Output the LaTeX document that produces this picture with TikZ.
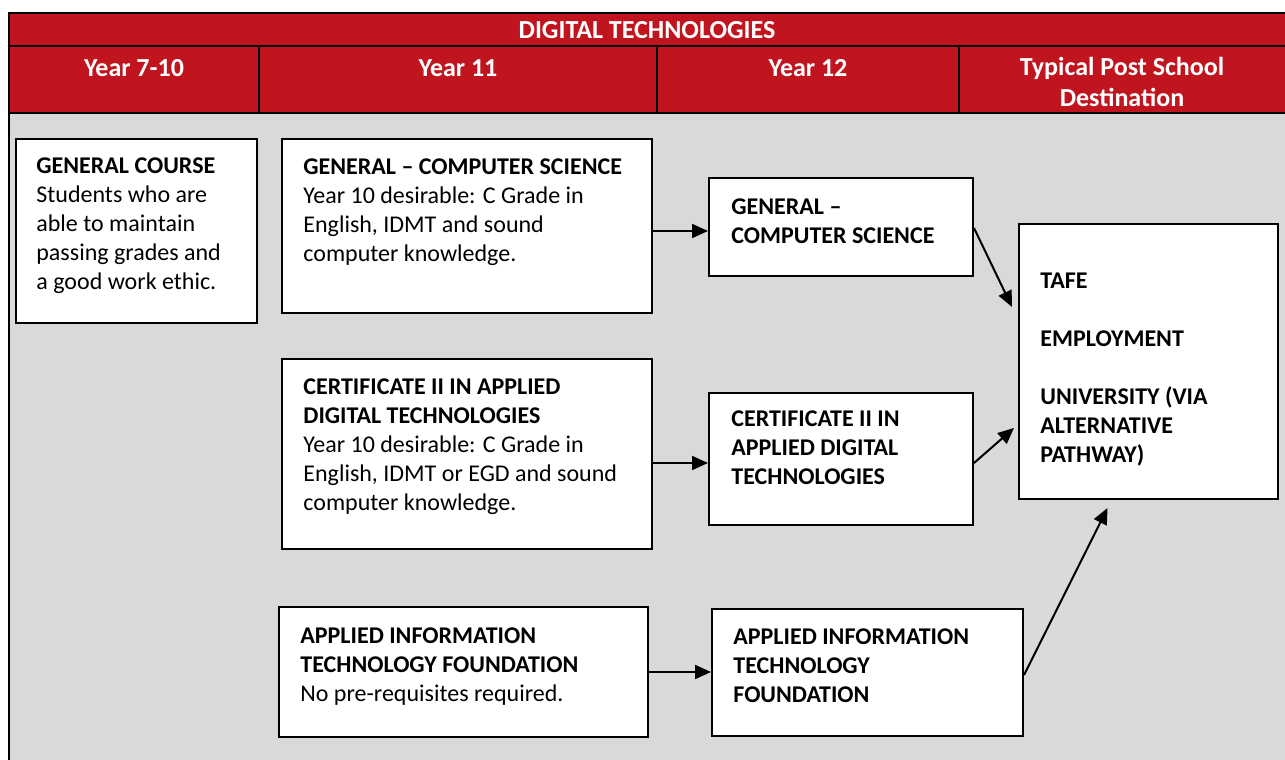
\documentclass[tikz,border=0pt]{standalone}
\usepackage{fontspec}
\setmainfont{Carlito}
\usetikzlibrary{arrows.meta,fit,calc}
\definecolor{hdrred}{RGB}{192,20,30}
\definecolor{bggray}{RGB}{217,217,217}
\begin{document}
\begin{tikzpicture}[x=0.5pt,y=-0.5pt,
  frame/.style={line width=1pt},
  box/.style={draw=black, fill=white, line width=1pt, inner sep=0pt},
  txt/.style={anchor=north west, inner sep=0pt, align=left, font=\fontsize{12pt}{14.5pt}\selectfont},
  btxt/.style={txt, font=\fontsize{12pt}{14.5pt}\selectfont\bfseries},
  hdr/.style={text=white, inner sep=0pt, align=center, font=\fontsize{13pt}{15.5pt}\selectfont\bfseries},
  arr/.style={line width=1pt, -{Triangle[length=8pt,width=7pt]}}]
\useasboundingbox (0,0) rectangle (1285,760);
\fill[white] (0,0) rectangle (1285,760);
% table background
\fill[hdrred] (9,13) rectangle (1285,113);
\fill[bggray] (9,113) rectangle (1285,760);
\draw[frame] (9,760) -- (9,13) -- (1285,13);
\draw[frame] (9,46) -- (1285,46);
\draw[frame] (9,113) -- (1285,113);
\draw[frame] (259,46) -- (259,113);
\draw[frame] (657,46) -- (657,113);
\draw[frame] (959,46) -- (959,113);
% headers
\node[hdr, anchor=base] (title) at (647,39) {DIGITAL TECHNOLOGIES};
\node[hdr, anchor=base] (h1) at (134,76) {Year 7-10};
\node[hdr, anchor=base] (h2) at (458,76) {Year 11};
\node[hdr, anchor=base] (h3) at (808,76) {Year 12};
\node[hdr, anchor=north] (h4) at (1122,57) {Typical Post School\\Destination};
% boxes
\node[box, fit={(16,139) (257,323)}] (b1) {};
\node[box, fit={(282,139) (652,313)}] (b2) {};
\node[box, fit={(282,359) (652,549)}] (b3) {};
\node[box, fit={(279,607) (648,737)}] (b4) {};
\node[box, fit={(709,178) (973,276)}] (b5) {};
\node[box, fit={(709,393) (973,525)}] (b6) {};
\node[box, fit={(712,609) (1023,736)}] (b7) {};
\node[box, fit={(1019,224) (1278,499)}] (b8) {};
% texts
\node[txt] (t1) at (36,157) {\textbf{GENERAL COURSE}\\Students who are\\able to maintain\\passing grades and\\a good work ethic.};
\node[txt] (t2) at (303,158) {\textbf{GENERAL – COMPUTER SCIENCE}\\Year 10 desirable: C Grade in\\English, IDMT and sound\\computer knowledge.};
\node[txt] (t3) at (303,378) {\textbf{CERTIFICATE II IN APPLIED}\\\textbf{DIGITAL TECHNOLOGIES}\\Year 10 desirable: C Grade in\\English, IDMT or EGD and sound\\computer knowledge.};
\node[txt] (t4) at (300,627) {\textbf{APPLIED INFORMATION}\\\textbf{TECHNOLOGY FOUNDATION}\\No pre-requisites required.};
\node[btxt] (t5) at (731,198) {GENERAL –\\COMPUTER SCIENCE};
\node[btxt] (t6) at (731,410) {CERTIFICATE II IN\\APPLIED DIGITAL\\TECHNOLOGIES};
\node[btxt] (t7) at (733,628) {APPLIED INFORMATION\\TECHNOLOGY\\FOUNDATION};
\node[btxt] (t8) at (1040,273) {TAFE\\[14.5pt]EMPLOYMENT\\[14.5pt]UNIVERSITY (VIA\\ALTERNATIVE\\PATHWAY)};
% arrows
\draw[arr] (b2.east |- 0,231) -- (b5.west |- 0,231);
\draw[arr] (b3.east |- 0,463) -- (b6.west |- 0,463);
\draw[arr] (b4.east |- 0,672) -- (b7.west |- 0,672);
\draw[arr] (b5.east |- 0,228) -- ($(b8.west |- 0,307)+(-6,0)$);
\draw[arr] (b6.east |- 0,463) -- ($(b8.west |- 0,428)+(-4,0)$);
\draw[arr] (b7.east |- 0,675) -- ($(b8.south)+(-41,8)$);
\end{tikzpicture}
\end{document}
